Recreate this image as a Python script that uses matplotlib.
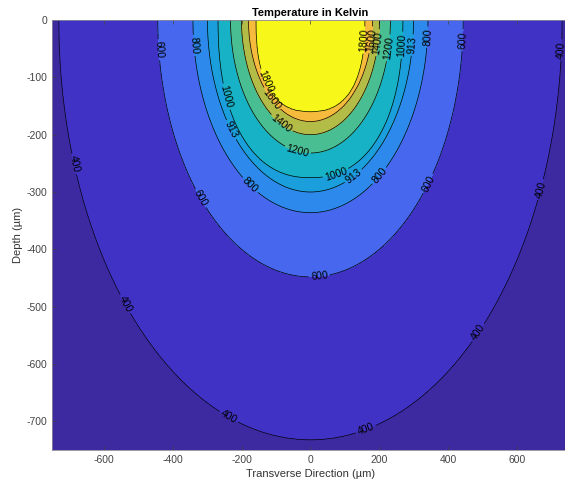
import matplotlib
matplotlib.use('Agg')
import matplotlib.pyplot as plt
import numpy as np

# Isotherm levels (K) and the shape of each isotherm:
# half width at the surface and depth at the centre line, both in um
levels = [400, 600, 800, 913, 1000, 1200, 1400, 1600, 1800]
half_width = [730, 443, 341, 299, 268, 232, 200, 180, 158]
pool_depth = [732, 448, 336, 300, 275, 232, 200, 177, 160]
shape_exp = [2.0, 2.0, 2.0, 2.0, 2.3, 2.0, 2.0, 2.0, 2.5]

band_colors = ['#3D2AA0', '#4132C6', '#4767EE', '#2E89EC', '#1B9EDC',
               '#17B2C6', '#4ABE93', '#B4BC48', '#F6BA3C', '#F8F71A']

x_ticks = [-600, -400, -200, 0, 200, 400, 600]
y_ticks = [-700, -600, -500, -400, -300, -200, -100, 0]

# label positions along the isotherms (x, depth)
label_pos = [(-696, -253), (-542, -497), (-226, -683), (159, -711), (487, -545),
             (670, -296), (725, -52),
             (-443, -52), (-328, -314), (26, -448), (348, -287), (443, -35),
             (-333, -44), (-180, -291), (203, -273), (339, -30),
             (-232, -192), (122, -270), (299, -44),
             (-246, -134), (72, -265), (268, -44),
             (-38, -230), (232, -49),
             (-87, -183), (200, -40),
             (-116, -139), (180, -35),
             (-122, -105), (158, -35)]

# build the temperature field from the nested isotherm shapes
x = np.linspace(-750, 750, 601)
y = np.linspace(-750, 0, 301)
X, Y = np.meshgrid(x, y)
R = np.array([((np.abs(X) / a) ** p + (np.abs(Y) / b) ** p) ** (1 / p)
              for a, b, p in zip(half_width, pool_depth, shape_exp)])
T = np.full(X.shape, np.nan)
lv = np.array(levels, dtype=float)
for k in range(len(levels) - 1):
    inside = (R[k] <= 1) & (R[k + 1] > 1)
    frac = (1 - R[k]) / (R[k + 1] - R[k])
    T = np.where(inside, lv[k] + (lv[k + 1] - lv[k]) * frac, T)
T = np.where(R[0] > 1, 400 - 200 * (R[0] - 1), T)
T = np.where(R[-1] <= 1, 1800 + 1000 * (1 - R[-1]), T)

plt.rcParams['font.family'] = ['Liberation Sans', 'DejaVu Sans']
plt.rcParams['axes.unicode_minus'] = False
fig = plt.figure(figsize=(5.65, 4.84), dpi=100)
ax = fig.add_axes([0.092, 0.0702, 0.915, 0.8885])

fill_levels = [T.min() - 1] + levels + [T.max() + 1]
ax.contourf(X, Y, T, levels=fill_levels, colors=band_colors)
cs = ax.contour(X, Y, T, levels=levels, colors='black', linewidths=0.5)
ax.clabel(cs, manual=label_pos, fmt='%d', fontsize=7.5, inline=True,
          inline_spacing=2)

ax.set_xlim(-750, 750)
ax.set_ylim(-750, 0)
ax.set_xticks(x_ticks)
ax.set_yticks(y_ticks)
ax.tick_params(direction='in', length=3, width=0.5, colors='#444444',
               labelsize=7.5, top=True, right=True)
for s in ax.spines.values():
    s.set_color('#8a8a9a')
    s.set_linewidth(0.6)

ax.set_title('Temperature in Kelvin', fontsize=8, fontweight='bold', pad=3)
ax.set_xlabel('Transverse Direction (\u00b5m)', fontsize=8, color='#333333', labelpad=3)
ax.set_ylabel('Depth (\u00b5m)', fontsize=8, color='#333333', labelpad=2)

fig.savefig('out.png', dpi=100)
